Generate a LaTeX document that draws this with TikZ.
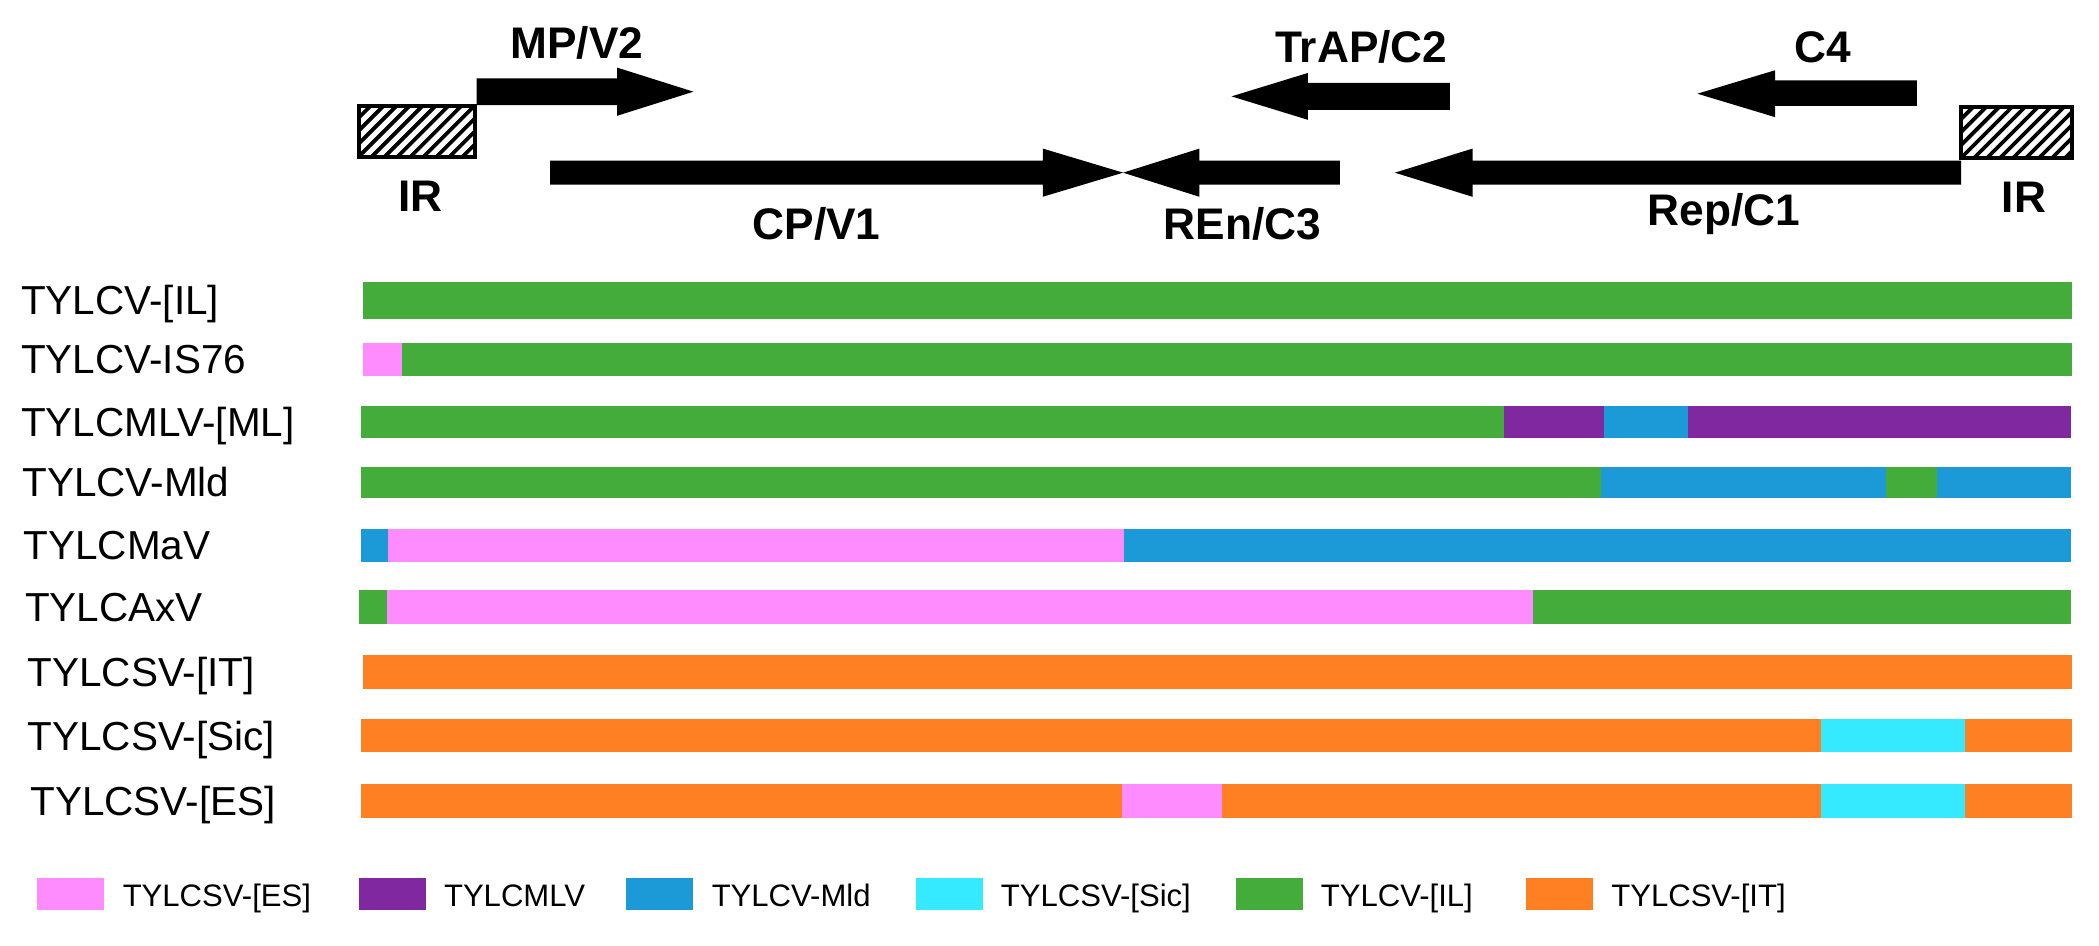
\documentclass[tikz,border=0pt]{standalone}
\usepackage{fontspec}
\setmainfont{Liberation Sans}
\definecolor{cIL}{RGB}{67,172,58}
\definecolor{cES}{RGB}{255,140,255}
\definecolor{cMLV}{RGB}{127,40,160}
\definecolor{cMld}{RGB}{27,154,215}
\definecolor{cSic}{RGB}{53,234,255}
\definecolor{cIT}{RGB}{255,127,35}
\begin{document}
\begin{tikzpicture}[x=0.01cm,y=-0.01cm,
    orflbl/.style={anchor=base,inner sep=0pt,font=\fontsize{9.4pt}{11pt}\selectfont\bfseries},
    rowlbl/.style={anchor=base west,inner sep=0pt,font=\fontsize{8.6pt}{10pt}\selectfont},
    keylbl/.style={anchor=base west,inner sep=0pt,font=\fontsize{6.6pt}{8pt}\selectfont},
    hatch/.style={line width=0.8pt}]
    \useasboundingbox (0,0) rectangle (1568,706);
    % genome map
    \begin{scope}
        \clip (268,79) rectangle (355,117);
        \foreach \k in {-5,...,10} \draw[hatch] (268+\k*9.7,117) -- ++(38,-38);
    \end{scope}
    \draw[line width=0.8pt] (268,79) rectangle (355,117);
    \begin{scope}
        \clip (1465,80) rectangle (1548,118);
        \foreach \k in {-5,...,10} \draw[hatch] (1465+\k*9.7,118) -- ++(38,-38);
    \end{scope}
    \draw[line width=0.8pt] (1465,80) rectangle (1548,118);
    \fill (356,58.5) -- (461,58.5) -- (461,50.5) -- (518,68.5) -- (461,86.5) -- (461,78.5) -- (356,78.5) -- cycle;
    \fill (411,120) -- (779,120) -- (779,111) -- (839,129) -- (779,147) -- (779,138) -- (411,138) -- cycle;
    \fill (1001,120) -- (896,120) -- (896,111) -- (839,129) -- (896,147) -- (896,138) -- (1001,138) -- cycle;
    \fill (1465,120) -- (1100,120) -- (1100,111) -- (1042,129) -- (1100,147) -- (1100,138) -- (1465,138) -- cycle;
    \fill (1083,62) -- (977,62) -- (977,54.5) -- (920,72) -- (977,89.5) -- (977,82) -- (1083,82) -- cycle;
    \fill (1432,60) -- (1326,60) -- (1326,52.5) -- (1268,70) -- (1326,87.5) -- (1326,79) -- (1432,79) -- cycle;
    \node[orflbl] (mp) at (431,43.8) {MP/V2};
    \node[orflbl] (trap) at (1017,46.8) {TrAP/C2};
    \node[orflbl] (cfour) at (1362,46.8) {C4};
    \node[orflbl] (irleft) at (314,158.3) {IR};
    \node[orflbl] (cp) at (610,178.8) {CP/V1};
    \node[orflbl] (ren) at (928,178.8) {REn/C3};
    \node[orflbl] (rep) at (1288,168.8) {Rep/C1};
    \node[orflbl] (irright) at (1512,158.8) {IR};
    % recombination map
    \foreach \y/\x/\t [count=\i] in {235.3/15/TYLCV-[IL], 279.3/15/TYLCV-IS76, 325.8/15/TYLCMLV-[ML],
        370.8/16/TYLCV-Mld, 418.3/17/TYLCMaV, 464.3/18/TYLCAxV, 512.8/20/TYLCSV-[IT],
        560.3/20/TYLCSV-[Sic], 609.3/22/TYLCSV-[ES]}
        \node[rowlbl] (row\i) at (\x,\y) {\t};
    \foreach \a/\b/\c in {271/1548/cIL} \fill[\c] (\a,211) rectangle (\b,238);
    \foreach \a/\b/\c in {271/300/cES, 300/1548/cIL} \fill[\c] (\a,256) rectangle (\b,281);
    \foreach \a/\b/\c in {270/1123.5/cIL, 1123.5/1198/cMLV, 1198/1261/cMld, 1261/1547/cMLV} \fill[\c] (\a,303) rectangle (\b,327);
    \foreach \a/\b/\c in {270/1196/cIL, 1196/1409/cMld, 1409/1447/cIL, 1447/1547/cMld} \fill[\c] (\a,348.5) rectangle (\b,372);
    \foreach \a/\b/\c in {269.5/290/cMld, 290/840/cES, 840/1547/cMld} \fill[\c] (\a,395) rectangle (\b,420);
    \foreach \a/\b/\c in {268/289/cIL, 289/1145/cES, 1145/1547/cIL} \fill[\c] (\a,441) rectangle (\b,466);
    \foreach \a/\b/\c in {271/1548/cIT} \fill[\c] (\a,489) rectangle (\b,515);
    \foreach \a/\b/\c in {270/1360/cIT, 1360/1468/cSic, 1468/1548/cIT} \fill[\c] (\a,537) rectangle (\b,562);
    \foreach \a/\b/\c in {270/838/cIT, 838/913/cES, 913/1360/cIT, 1360/1468/cSic, 1468/1548/cIT} \fill[\c] (\a,586) rectangle (\b,611);
    % legend
    \foreach \a/\c/\t in {28/cES/TYLCSV-[ES], 268/cMLV/TYLCMLV, 468/cMld/TYLCV-Mld,
        684/cSic/TYLCSV-[Sic], 923/cIL/TYLCV-[IL], 1140/cIT/TYLCSV-[IT]} {
        \fill[\c] (\a,656) rectangle ++(50,24);
        \node[keylbl] (key\c) at (\a+63,677) {\t};
    }
\end{tikzpicture}
\end{document}
